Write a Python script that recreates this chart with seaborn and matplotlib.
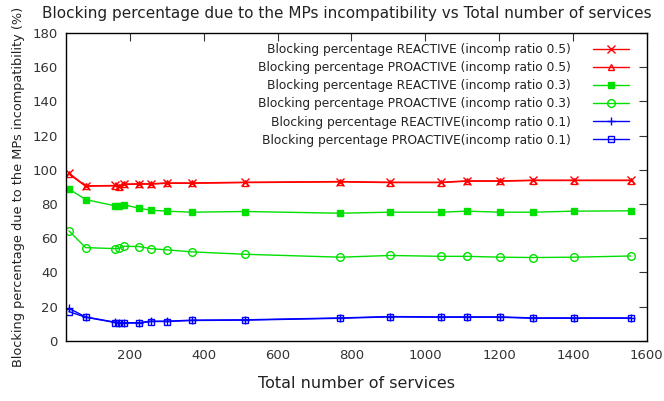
import numpy as np
import pandas as pd
import seaborn as sns
import matplotlib
matplotlib.use("Agg")
import matplotlib.pyplot as plt

# number of services (x axis)
services = [35, 80, 160, 170, 185, 225, 256, 300, 368, 512,
            770, 905, 1043, 1112, 1203, 1292, 1403, 1557]

react_05 = [98.0, 90.6, 90.8, 90.6, 91.6, 91.8, 91.8, 92.3, 92.3, 92.7,
            93.1, 92.7, 92.7, 93.5, 93.5, 93.9, 93.9, 93.9]
proact_05 = [97.5, 90.4, 90.6, 90.2, 91.4, 91.6, 91.6, 92.1, 92.1, 92.5,
             92.9, 92.5, 92.5, 93.3, 93.3, 93.7, 93.7, 93.7]
react_03 = [88.8, 82.6, 78.9, 78.9, 79.5, 77.5, 76.4, 75.8, 75.2, 75.6,
            74.6, 75.2, 75.2, 75.8, 75.2, 75.2, 75.8, 76.0]
proact_03 = [64.3, 54.5, 53.9, 54.0, 55.3, 55.1, 53.9, 53.2, 52.0, 50.6,
             48.9, 49.9, 49.4, 49.4, 48.9, 48.7, 48.9, 49.6]
react_01 = [19.0, 14.0, 10.9, 10.6, 10.6, 10.6, 11.5, 11.5, 12.1, 12.3,
            13.4, 14.2, 14.0, 14.0, 14.0, 13.4, 13.4, 13.4]
proact_01 = [17.1, 13.8, 10.7, 10.4, 10.4, 10.4, 11.3, 11.3, 11.9, 12.1,
             13.2, 14.0, 13.8, 13.8, 13.8, 13.2, 13.2, 13.2]

labels = ["Blocking percentage REACTIVE (incomp ratio 0.5)",
          "Blocking percentage PROACTIVE (incomp ratio 0.5)",
          "Blocking percentage REACTIVE (incomp ratio 0.3)",
          "Blocking percentage PROACTIVE (incomp ratio 0.3)",
          "Blocking percentage REACTIVE(incomp ratio 0.1)",
          "Blocking percentage PROACTIVE(incomp ratio 0.1)"]
series = [react_05, proact_05, react_03, proact_03, react_01, proact_01]

colors = ["#ff0000", "#ff0000", "#00e000", "#00e000", "#0000ff", "#0000ff"]
markers = ["x", "^", "s", "o", "+", "s"]
fills = [True, False, True, False, True, False]
sizes = [5.5, 5, 5, 5.5, 6, 4.5]

sns.set_style("white")
plt.rcParams['font.family'] = ['DejaVu Sans']

fig = plt.figure(figsize=(6.64, 4.01), dpi=100)
ax = fig.add_axes([0.0994, 0.150, 0.8746, 0.768])

for lab, ys, c, m, f, ms in zip(labels, series, colors, markers, fills, sizes):
    sns.lineplot(x=services, y=ys, ax=ax, color=c, marker=m, label=lab,
                 markersize=ms,
                 markerfacecolor=c if f else "none", markeredgecolor=c,
                 markeredgewidth=1.0, linewidth=1.0)

ax.set_xlim(27, 1600)
ax.set_ylim(0, 180)
ax.set_xticks(range(200, 1601, 200))
ax.set_yticks(range(0, 181, 20))
ax.tick_params(direction="in", top=True, right=True, length=6, width=0.8,
               labelsize=9.5, colors="#333333", labelcolor="#333333", pad=6)
for s in ax.spines.values():
    s.set_color("black")
    s.set_linewidth(1.0)

fig.text(0.523, 0.955,
         "Blocking percentage due to the MPs incompatibility vs Total number of services",
         fontsize=11.0, color="#222222", ha="center", va="baseline")
ax.set_xlabel("Total number of services", fontsize=11.5, color="#222222", labelpad=10)
ax.set_ylabel("Blocking percentage due to the MPs incompatibility (%)", fontsize=9.3,
              color="#222222", labelpad=5)

ax.legend(loc="upper right", bbox_to_anchor=(0.985, 0.995), frameon=False,
          markerfirst=False, fontsize=8.8, handlelength=3.0, labelspacing=0.42,
          borderpad=0.2, handletextpad=1.8, labelcolor="#222222")

fig.savefig("out.png", dpi=100)
